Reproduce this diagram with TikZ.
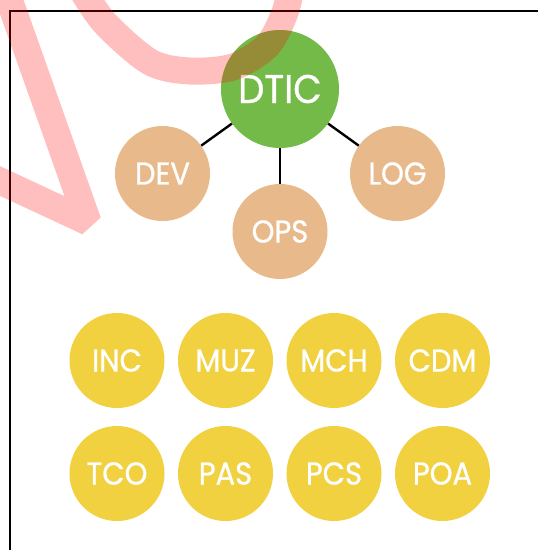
\documentclass[tikz,border=0pt]{standalone}
\usepackage{fontspec}
\setmainfont{Poppins}[FakeStretch=0.92, RawFeature={embolden=0.8}]
\definecolor{dticgreen}{RGB}{115,186,73}
\definecolor{deptan}{RGB}{232,185,139}
\definecolor{unityellow}{RGB}{241,209,63}
\tikzset{
  bubble/.style={circle, inner sep=0pt, text=white, draw=none},
  topbubble/.style={bubble, fill=dticgreen, minimum size=118pt, font=\fontsize{40}{44}\selectfont},
  deptbubble/.style={bubble, fill=deptan, minimum size=95pt, font=\fontsize{31.5}{36}\selectfont},
  unitbubble/.style={bubble, fill=unityellow, minimum size=95pt, font=\fontsize{31.5}{36}\selectfont},
  conn/.style={draw=black, line width=2.4pt},
  framestroke/.style={draw=black, line width=1.8pt},
  scribble/.style={draw=red, draw opacity=0.25, line width=27pt, line join=bevel, line cap=butt}
}
\begin{document}
\begin{tikzpicture}[x=1pt, y=-1pt]
\useasboundingbox (0,0) rectangle (538,550);
\fill[white] (0,0) rectangle (538,550);
% frame
\coordinate (fTR) at (540,11);
\coordinate (fTL) at (10,11);
\coordinate (fBL) at (10,552);
\draw[framestroke] (fTR) -- (fTL) -- (fBL);
% top hierarchy
\node[topbubble] (dtic) at (280,89) {DTIC};
\node[deptbubble] (dev) at (162.5,173.5) {DEV};
\node[deptbubble] (log) at (397.5,173.5) {LOG};
\node[deptbubble] (ops) at (280,231.5) {OPS};
\draw[conn] (dtic) -- (dev);
\draw[conn] (dtic) -- (log);
\draw[conn] (dtic) -- (ops);
% units
\node[unitbubble] (inc) at (117,360.5) {INC};
\node[unitbubble] (muz) at (225.5,360.5) {MUZ};
\node[unitbubble] (mch) at (334,360.5) {MCH};
\node[unitbubble] (cdm) at (442.5,360.5) {CDM};
\node[unitbubble] (tco) at (117,473.5) {TCO};
\node[unitbubble] (pas) at (225.5,473.5) {PAS};
\node[unitbubble] (pcs) at (334,473.5) {PCS};
\node[unitbubble] (poa) at (442.5,473.5) {POA};
% red scribble overlay
\begin{scope}
\clip (0,0) rectangle (538,550);
\draw[scribble] (4,-15) -- (88,222) -- (-15,174);
\draw[scribble, line cap=round] plot[smooth] coordinates {(76,-20) (104,22) (150,62) (190,71) (233,67) (267,46) (284,15) (292,-15)};
\end{scope}
\end{tikzpicture}
\end{document}
